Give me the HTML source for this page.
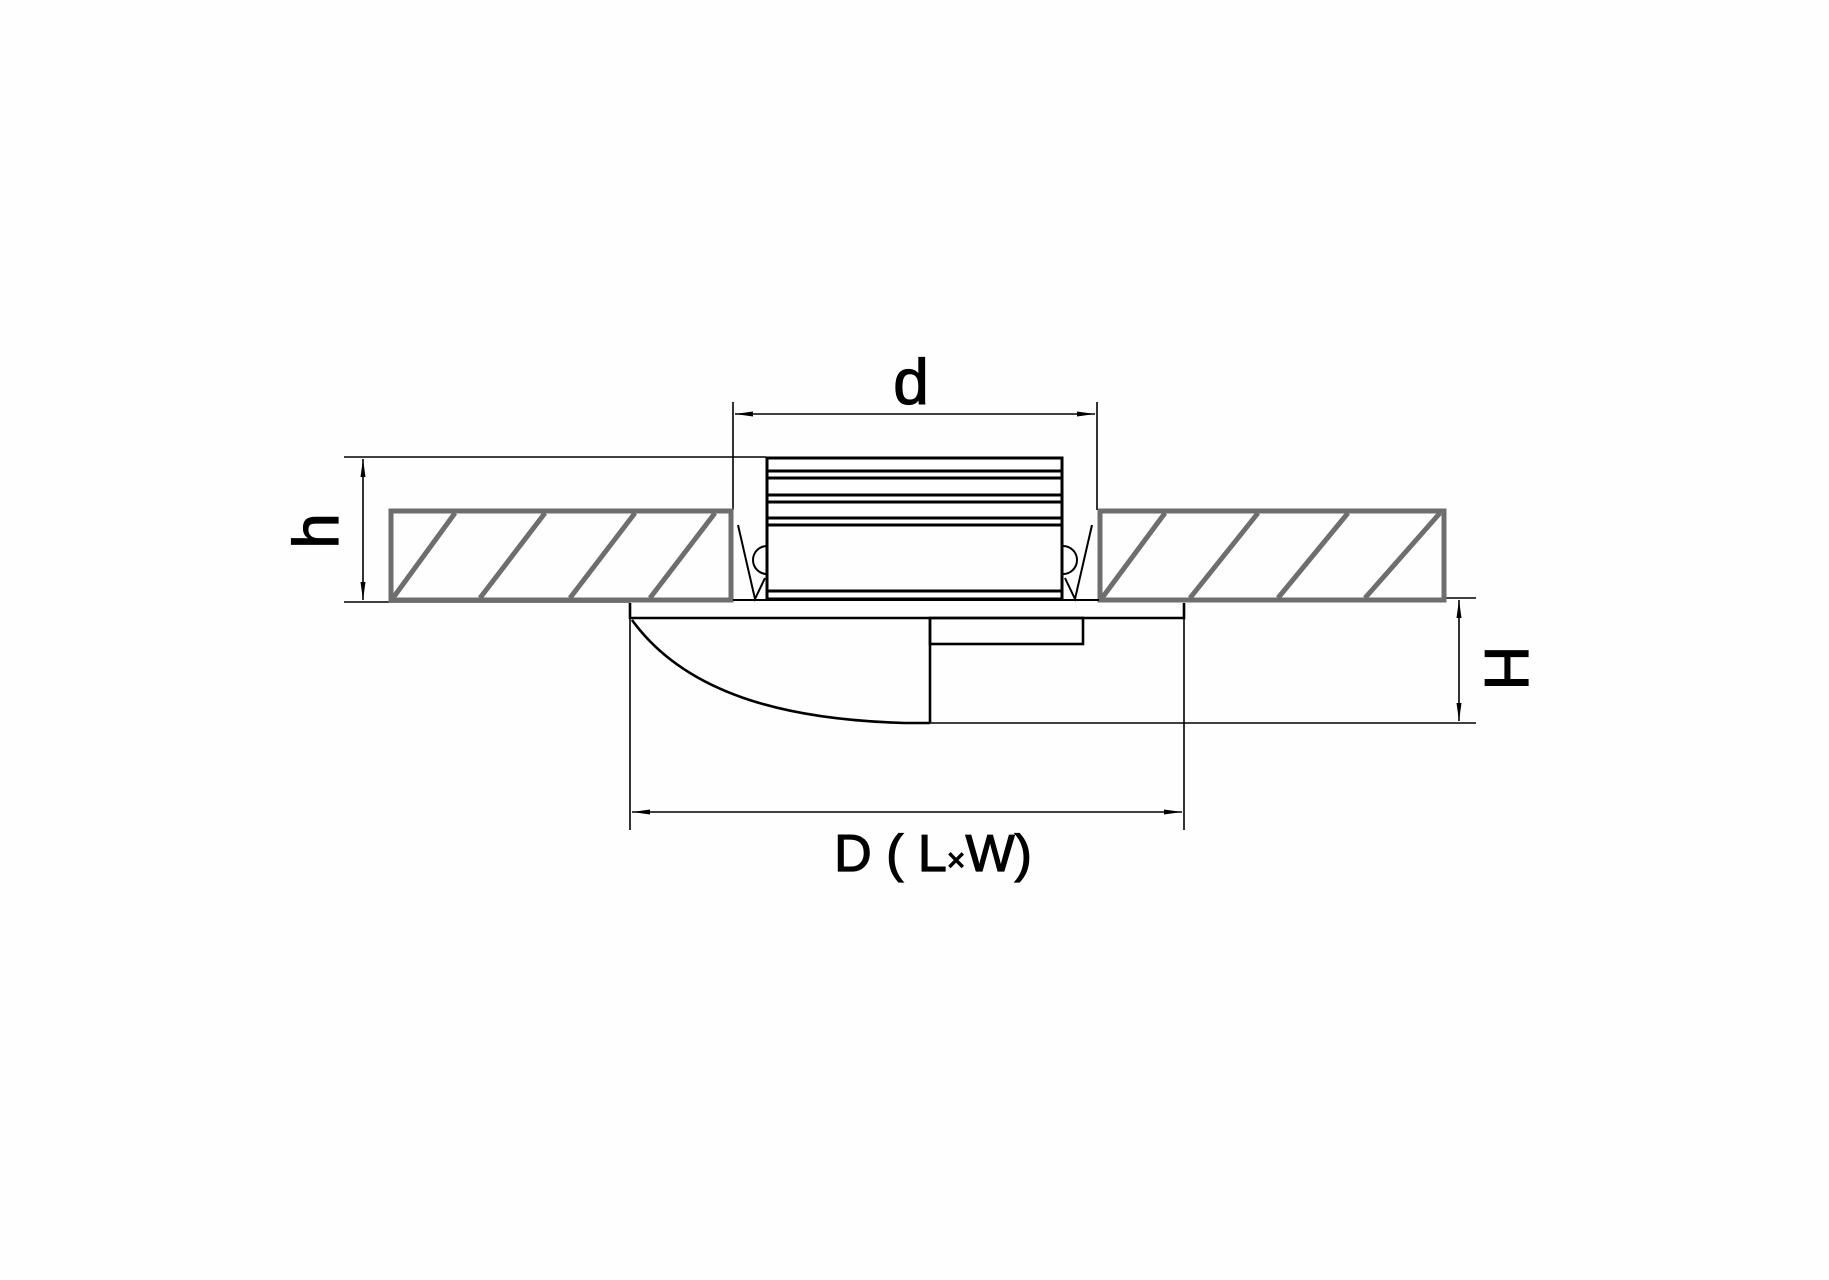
<!DOCTYPE html>
<html><head><meta charset="utf-8"><style>
html,body{margin:0;padding:0;background:#fff;}
svg{display:block}
text{font-family:"Liberation Sans","DejaVu Sans",sans-serif;fill:#000;stroke:#000;stroke-width:1.2}
</style></head><body>
<svg width="1829" height="1280" viewBox="0 0 1829 1280" xmlns="http://www.w3.org/2000/svg">
<rect width="1829" height="1280" fill="#fefefe"/>
<defs>
<marker id="a" markerWidth="18" markerHeight="8" refX="18" refY="4" orient="auto-start-reverse" markerUnits="userSpaceOnUse">
<path d="M0,1.5 L18,4 L0,6.5 Z" fill="#000"/></marker>
</defs>
<g stroke="#000" stroke-width="1.6" fill="none">
<line x1="344" y1="457" x2="766" y2="457"/>
<line x1="344" y1="602" x2="630" y2="602"/>
<line x1="363" y1="459" x2="363" y2="600" marker-start="url(#a)" marker-end="url(#a)"/>
<line x1="733" y1="402" x2="733" y2="510"/>
<line x1="1097" y1="402" x2="1097" y2="510"/>
<line x1="735" y1="414" x2="1095" y2="414" marker-start="url(#a)" marker-end="url(#a)"/>
<line x1="1444" y1="598" x2="1476" y2="598"/>
<line x1="904" y1="723" x2="1476" y2="723"/>
<line x1="1459" y1="600" x2="1459" y2="721" marker-start="url(#a)" marker-end="url(#a)"/>
<line x1="630" y1="606" x2="630" y2="830"/>
<line x1="1184" y1="606" x2="1184" y2="830"/>
<line x1="632" y1="812" x2="1182" y2="812" marker-start="url(#a)" marker-end="url(#a)"/>
</g>
<g stroke="#6e6e6e" stroke-width="5" fill="none">
<rect x="391" y="511" width="340" height="89"/>
<rect x="1100" y="511" width="344" height="89"/>
<path d="M393,598 L455,513 M480,598 L545,513 M570,598 L635,513 M650,598 L715,513"/>
<path d="M1102,598 L1165,513 M1190,598 L1258,513 M1278,598 L1348,513 M1365,598 L1440,513"/>
</g>
<g stroke="#000" stroke-width="3" fill="none">
<rect x="767" y="458" width="295" height="141"/>
<path d="M767,471H1061 M767,478H1061 M767,495H1061 M767,502H1061 M767,518H1061 M767,525H1061 M767,591H1061"/>
</g>
<g stroke="#000" stroke-width="2" fill="none">
<path d="M738,525 L755,599 L765,578"/><path d="M767,546 A14,14 0 0,0 767,574"/>
<path d="M1092,525 L1075,599 L1065,578"/><path d="M1063,546 A14,14 0 0,1 1063,574"/>
<line x1="733" y1="600" x2="1099" y2="600"/>
</g>
<g stroke="#000" stroke-width="2.6" fill="none">
<path d="M630,603 V618 H1184 V603"/>
<path d="M632,620 C690,700 800,720 904,723 H930"/>
<line x1="930" y1="618" x2="930" y2="723"/>
<rect x="930" y="618" width="153" height="26"/>
</g>
<text x="911" y="404" font-size="64" text-anchor="middle">d</text>
<text x="933" y="871" font-size="52" text-anchor="middle">D ( L<tspan font-size="32">×</tspan>W)</text>
<text transform="translate(338,531) rotate(-90)" font-size="64" text-anchor="middle">h</text>
<text transform="translate(1485,668) rotate(90)" font-size="62" text-anchor="middle">H</text>
</svg>
</body></html>
